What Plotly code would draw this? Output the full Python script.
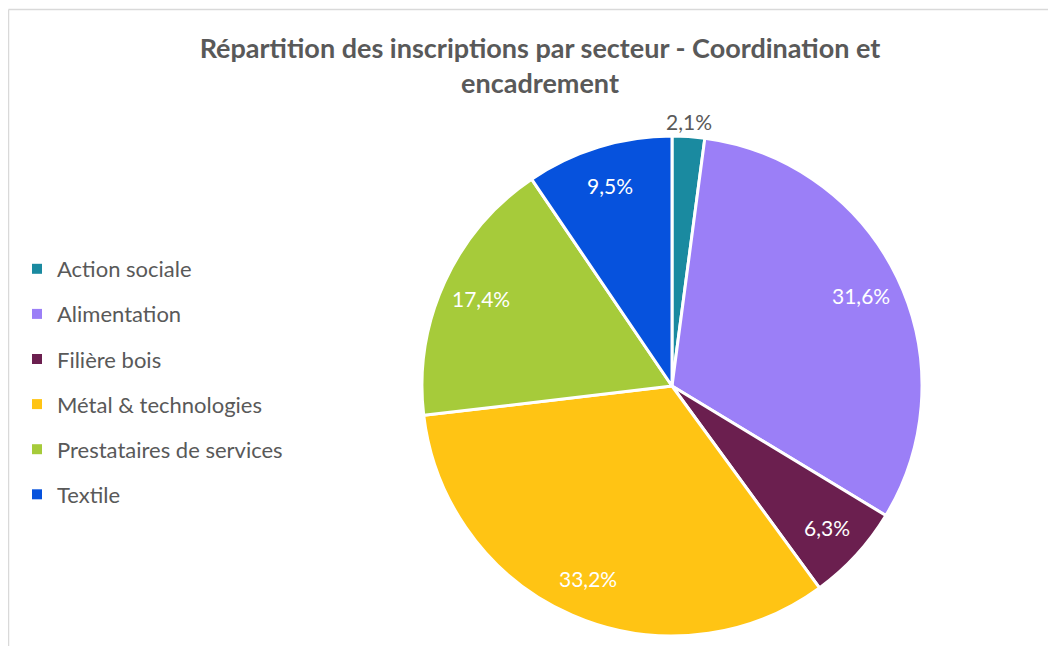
import math
import plotly.graph_objects as go

categories = ["Action sociale", "Alimentation", "Filière bois", "Métal & technologies",
              "Prestataires de services", "Textile"]
values = [2.1, 31.6, 6.3, 33.2, 17.4, 9.5]
colors = ["#1A8AA0", "#9B7FF7", "#6B1F4F", "#FFC414", "#A6CB3A", "#0652DD"]
labels_text = ["2,1%", "31,6%", "6,3%", "33,2%", "17,4%", "9,5%"]
label_outside = [True, False, False, False, False, False]

# page body has an 8px margin; figure coordinates are offset accordingly
W, H = 1040, 638
cx, cy, r = 664, 378, 250

fig = go.Figure()
fig.add_trace(go.Pie(
    labels=categories, values=values, textinfo="none", sort=False,
    direction="clockwise", rotation=0,
    marker=dict(colors=colors, line=dict(color="white", width=3)),
    domain=dict(x=[(cx - r) / W, (cx + r) / W], y=[1 - (cy + r) / H, 1 - (cy - r) / H]),
    showlegend=False, hoverinfo="label+percent",
))
for c, col in zip(categories, colors):
    fig.add_trace(go.Scatter(
        x=[None], y=[None], mode="markers", name=c, legendgroup=c,
        marker=dict(symbol="square", size=10, color=col),
    ))

# data labels at the middle angle of each slice
total = sum(values)
cum = 0.0
annotations = []
for v, t, out in zip(values, labels_text, label_outside):
    mid = (cum + v / 2) / total * 2 * math.pi
    cum += v
    rr = 265 if out else 0.84 * r
    px = cx + rr * math.sin(mid)
    py = cy - rr * math.cos(mid)
    annotations.append(dict(
        x=px / W, y=1 - py / H, xref="paper", yref="paper", text=t, showarrow=False,
        xanchor="center", yanchor="middle",
        font=dict(family="Lato", size=21, color="#595959" if out else "white"),
    ))

fig.update_layout(
    width=W, height=H,
    margin=dict(l=0, r=0, t=0, b=0),
    paper_bgcolor="white", plot_bgcolor="white",
    title=dict(text="Répartition des inscriptions par secteur - Coordination et<br>encadrement",
               x=532 / W, xanchor="center", y=1 - 50 / H, yanchor="middle",
               font=dict(family="Lato", size=27, color="#595959", weight="bold")),
    xaxis=dict(visible=False), yaxis=dict(visible=False),
    legend=dict(x=9 / W, xanchor="left", y=1 - 240 / H, yanchor="top",
                traceorder="grouped", tracegroupgap=13.5, itemwidth=30,
                font=dict(family="Lato", size=22, color="#595959"),
                bgcolor="rgba(0,0,0,0)"),
    annotations=annotations,
    shapes=[
        dict(type="line", xref="paper", yref="paper", x0=0.5 / W, x1=1, y0=1 - 1.5 / H, y1=1 - 1.5 / H,
             line=dict(color="#D9D9D9", width=1.5)),
        dict(type="line", xref="paper", yref="paper", x0=0.5 / W, x1=0.5 / W, y0=0, y1=1 - 1.5 / H,
             line=dict(color="#D9D9D9", width=1.5)),
    ],
)
fig.write_html("out.html")
